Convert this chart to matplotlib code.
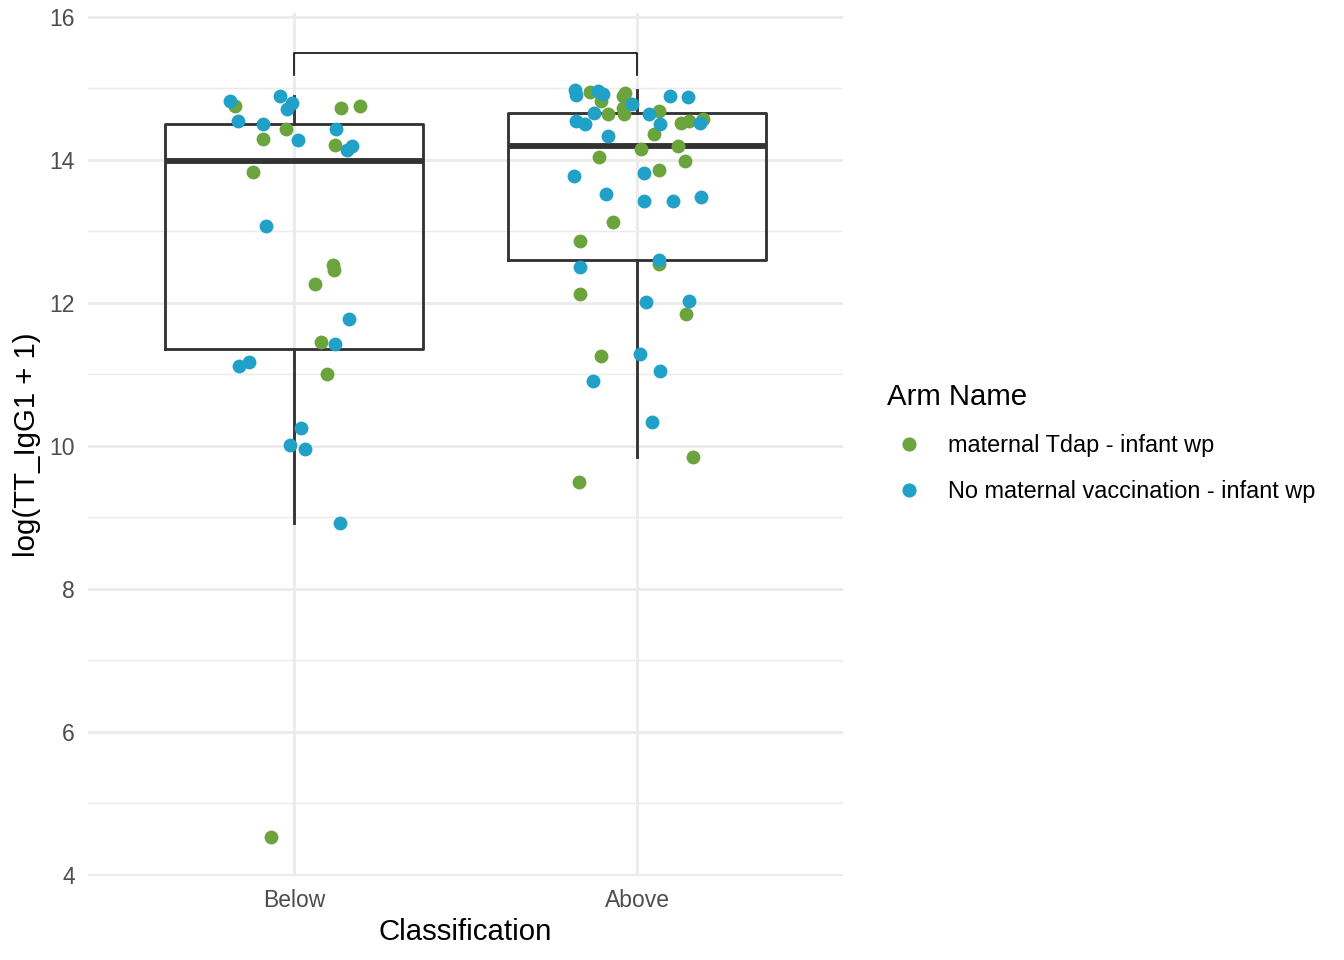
import matplotlib
matplotlib.use("Agg")
import matplotlib.pyplot as plt
from matplotlib.lines import Line2D
import numpy as np

plt.rcParams["font.family"] = ["Liberation Sans", "DejaVu Sans"]

categories = ["Below", "Above"]
arm_names = ["maternal Tdap - infant wp", "No maternal vaccination - infant wp"]
arm_colors = ["#6BA43C", "#21A0C8"]

# Below group: values, with horizontal jitter
below_tdap = [14.75, 14.73, 14.76, 14.44, 14.29, 14.21, 13.83, 12.53, 12.46, 12.27, 11.46, 11.01, 4.53]
below_tdap_jit = [-0.172, 0.136, 0.192, -0.023, -0.090, 0.120, -0.120, 0.113, 0.117, 0.062, 0.078, 0.096, -0.067]
below_none = [14.82, 14.90, 14.80, 14.71, 14.54, 14.50, 14.28, 14.44, 14.14, 14.19, 13.07, 11.78, 11.42,
              11.12, 11.17, 10.25, 10.01, 9.96, 8.92]
below_none_jit = [-0.187, -0.041, -0.007, -0.021, -0.162, -0.090, 0.011, 0.122, 0.154, 0.168, -0.082, 0.160, 0.120,
                  -0.160, -0.131, 0.020, -0.012, 0.032, 0.134]

# Above group
above_tdap = [14.95, 14.83, 14.94, 14.89, 14.72, 14.64, 14.64, 14.69, 14.37, 14.52, 14.55, 14.57, 14.16,
              14.19, 13.99, 14.04, 13.86, 13.13, 12.87, 12.55, 12.12, 11.84, 11.26, 9.84, 9.49]
above_tdap_jit = [-0.137, -0.106, -0.035, -0.042, -0.040, -0.037, -0.084, 0.064, 0.048, 0.127, 0.152, 0.193, 0.012,
                  0.119, 0.140, -0.112, 0.064, -0.069, -0.166, 0.065, -0.166, 0.142, -0.106, 0.163, -0.168]
above_none = [14.98, 14.91, 14.96, 14.92, 14.78, 14.90, 14.88, 14.65, 14.55, 14.50, 14.64, 14.51, 14.52,
              14.34, 13.78, 13.82, 13.52, 13.43, 13.43, 13.48, 12.60, 12.51, 12.02, 12.03, 11.28, 11.05,
              10.91, 10.33]
above_none_jit = [-0.181, -0.178, -0.113, -0.100, -0.015, 0.096, 0.147, -0.125, -0.178, -0.152, 0.036, 0.067, 0.182,
                  -0.084, -0.184, 0.021, -0.091, 0.021, 0.104, 0.186, 0.065, -0.166, 0.025, 0.152, 0.008, 0.067,
                  -0.129, 0.044]

bracket_low, bracket_high = 15.19, 15.50

fig = plt.figure(figsize=(7, 5), dpi=192)
ax = fig.add_axes([88 / 1344, 1 - 876.4 / 960, (843 - 88) / 1344, (876.4 - 13.4) / 960])

pos = np.arange(1, len(categories) + 1)
groups = [below_tdap + below_none, above_tdap + above_none]

line_kw = dict(color="#333333", linewidth=1.07)
ax.boxplot(groups, positions=pos, widths=0.75, showfliers=False, showcaps=False,
           boxprops=line_kw, whiskerprops=line_kw,
           medianprops=dict(color="#333333", linewidth=2.2), zorder=2)

jitters = [(below_tdap, below_tdap_jit, below_none, below_none_jit),
           (above_tdap, above_tdap_jit, above_none, above_none_jit)]
for p, (tv, tj, nv, nj) in zip(pos, jitters):
    ax.scatter(p + np.array(tj), tv, s=27, color=arm_colors[0], linewidths=0, zorder=3)
    ax.scatter(p + np.array(nj), nv, s=27, color=arm_colors[1], linewidths=0, zorder=3)

ax.plot([pos[0], pos[0], pos[1], pos[1]], [bracket_low, bracket_high, bracket_high, bracket_low],
        color="black", linewidth=0.6, zorder=4)

# axes / grid
ax.set_ylim(3.98, 16.05)
ax.set_xlim(0.4, 2.6)
ax.set_yticks(np.arange(4, 17, 2))
ax.set_yticks(np.arange(5, 16, 2), minor=True)
ax.set_xticks(pos)
ax.set_xticklabels(categories)
ax.grid(True, which="major", color="#EBEBEB", linewidth=1.07, zorder=0)
ax.grid(True, which="minor", axis="y", color="#EBEBEB", linewidth=0.53, zorder=0)
ax.set_axisbelow(True)
for s in ax.spines.values():
    s.set_visible(False)
ax.tick_params(which="both", length=0, labelsize=8.6, labelcolor="#4D4D4D", pad=4.9)

ax.set_xlabel("Classification", fontsize=11, labelpad=2)
ax.set_ylabel("log(TT_IgG1 + 1)", fontsize=11, labelpad=3)

handles = [Line2D([], [], marker="o", linestyle="none", markersize=5.3, markeredgewidth=0, color=c)
           for c in arm_colors]
leg = fig.legend(handles, arm_names, loc="center left", bbox_to_anchor=(875 / 1344, 1 - 443 / 960),
                 frameon=False, title="Arm Name", title_fontsize=11, fontsize=8.8, alignment="left",
                 handlelength=1.9, handletextpad=0.7, labelspacing=1.0, borderpad=0)

fig.savefig("out.png", dpi=192)
